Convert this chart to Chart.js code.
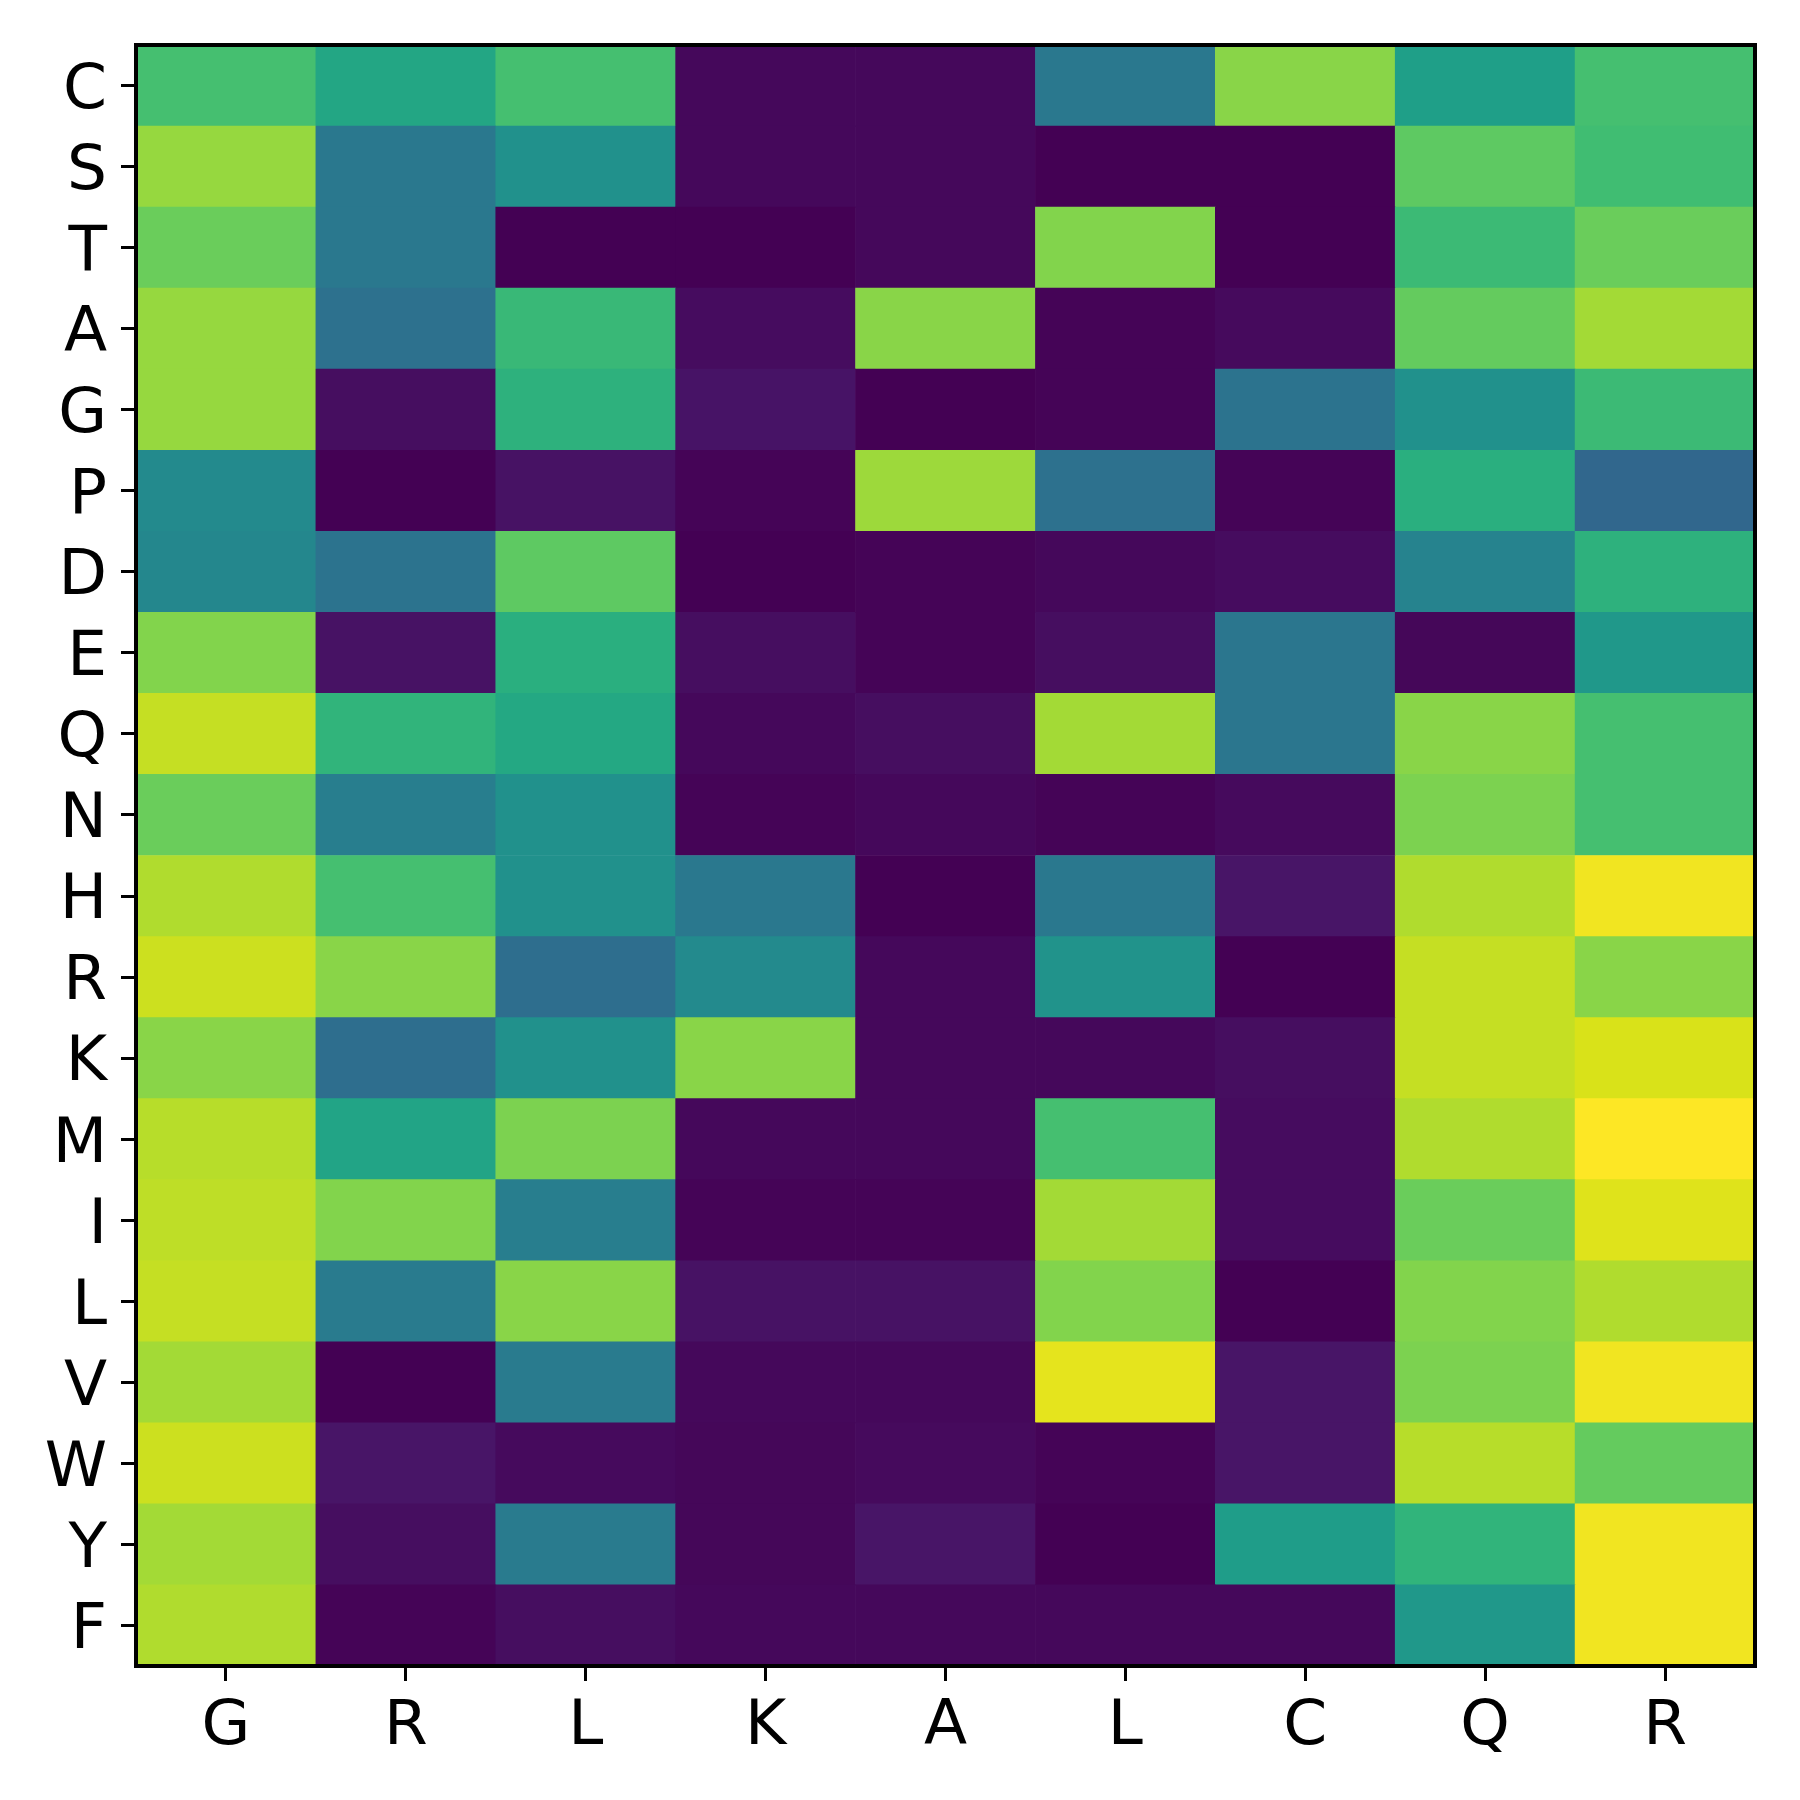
<!DOCTYPE html>
<html>
<head>
<meta charset="utf-8">
<script src="https://cdn.jsdelivr.net/npm/chart.js@4/dist/chart.umd.min.js"></script>
<style>
    body { margin: 0; background: #fff; }
    #wrap { width: 1800px; height: 1800px; }
</style>
</head>
<body>
<div id="wrap"><canvas id="heat" width="1800" height="1800"></canvas></div>
<script>
// column labels (x) and row labels (y, top to bottom)
const colLabels = ['G', 'R', 'L', 'K', 'A', 'L', 'C', 'Q', 'R'];
const rowLabels = ['C', 'S', 'T', 'A', 'G', 'P', 'D', 'E', 'Q', 'N', 'H', 'R', 'K', 'M', 'I', 'L', 'V', 'W', 'Y', 'F'];

// heat values 0..1, one row per rowLabel
const rowC = [0.70, 0.59, 0.70, 0.020, 0.020, 0.40, 0.82, 0.56, 0.70];
const rowS = [0.84, 0.40, 0.50, 0.020, 0.020, 0.000, 0.000, 0.75, 0.69];
const rowT = [0.77, 0.40, 0.000, 0.000, 0.020, 0.81, 0.000, 0.68, 0.77];
const rowA = [0.84, 0.37, 0.67, 0.030, 0.82, 0.008, 0.025, 0.76, 0.86];
const rowG = [0.84, 0.035, 0.64, 0.050, 0.000, 0.008, 0.38, 0.50, 0.68];
const rowP = [0.47, 0.000, 0.045, 0.008, 0.85, 0.37, 0.008, 0.63, 0.33];
const rowD = [0.46, 0.38, 0.75, 0.000, 0.008, 0.020, 0.030, 0.44, 0.64];
const rowE = [0.81, 0.045, 0.63, 0.035, 0.008, 0.035, 0.39, 0.015, 0.53];
const rowQ = [0.91, 0.65, 0.60, 0.020, 0.035, 0.86, 0.39, 0.82, 0.70];
const rowN = [0.77, 0.42, 0.50, 0.008, 0.020, 0.008, 0.025, 0.80, 0.70];
const rowH = [0.88, 0.70, 0.50, 0.40, 0.000, 0.40, 0.055, 0.88, 0.98];
const rowR = [0.92, 0.82, 0.36, 0.47, 0.020, 0.51, 0.000, 0.91, 0.82];
const rowK = [0.82, 0.36, 0.50, 0.82, 0.020, 0.020, 0.035, 0.91, 0.94];
const rowM = [0.89, 0.58, 0.80, 0.020, 0.020, 0.70, 0.030, 0.88, 1.00];
const rowI = [0.90, 0.81, 0.42, 0.008, 0.008, 0.86, 0.030, 0.77, 0.95];
const rowL = [0.91, 0.41, 0.82, 0.045, 0.045, 0.81, 0.000, 0.81, 0.88];
const rowV = [0.86, 0.000, 0.41, 0.020, 0.020, 0.96, 0.055, 0.80, 0.98];
const rowW = [0.92, 0.055, 0.025, 0.015, 0.025, 0.008, 0.055, 0.89, 0.76];
const rowY = [0.86, 0.035, 0.41, 0.015, 0.055, 0.000, 0.55, 0.65, 0.98];
const rowF = [0.88, 0.008, 0.035, 0.020, 0.020, 0.020, 0.020, 0.53, 0.98];

const heatRows = [rowC, rowS, rowT, rowA, rowG, rowP, rowD, rowE, rowQ, rowN,
                  rowH, rowR, rowK, rowM, rowI, rowL, rowV, rowW, rowY, rowF];

// viridis colormap
const viridisStops = ['#440154', '#48186a', '#472d7b', '#424086', '#3b528b', '#33638d', '#2c728e', '#26828e', '#21918c',
                      '#1fa088', '#28ae80', '#3fbc73', '#5ec962', '#84d44b', '#addc30', '#d8e219', '#fde725'];
function hexToRgb(h) {
    return [parseInt(h.slice(1, 3), 16), parseInt(h.slice(3, 5), 16), parseInt(h.slice(5, 7), 16)];
}
function viridis(v) {
    v = Math.max(0, Math.min(1, v));
    const pos = v * (viridisStops.length - 1);
    const i = Math.min(Math.floor(pos), viridisStops.length - 2);
    const t = pos - i;
    const a = hexToRgb(viridisStops[i]), b = hexToRgb(viridisStops[i + 1]);
    const c = a.map((x, k) => Math.round(x + (b[k] - x) * t));
    return `rgb(${c[0]},${c[1]},${c[2]})`;
}

// one stacked dataset per row, bottom row first
const datasets = [];
for (let r = heatRows.length - 1; r >= 0; r--) {
    datasets.push({
        label: rowLabels[r],
        data: heatRows[r].map(() => 1),
        backgroundColor: heatRows[r].map(viridis),
        borderWidth: 0,
        barPercentage: 1.0,
        categoryPercentage: 1.0
    });
}

// frame around the plot area
const framePlugin = {
    id: 'frame',
    afterDraw(chart) {
        const { ctx, chartArea: a } = chart;
        ctx.save();
        ctx.strokeStyle = '#000';
        ctx.lineWidth = 4;
        ctx.strokeRect(a.left, a.top, a.right - a.left, a.bottom - a.top);
        ctx.restore();
    }
};

new Chart(document.getElementById('heat'), {
    type: 'bar',
    data: { labels: colLabels, datasets },
    options: {
        responsive: false,
        animation: false,
        events: [],
        layout: { padding: { top: 45, right: 45, left: 0, bottom: 0 } },
        plugins: { legend: { display: false }, tooltip: { enabled: false } },
        scales: {
            x: {
                stacked: true,
                afterFit: (s) => { s.height = 134; s.paddingLeft = 0; s.paddingRight = 0; },
                grid: { offset: false, drawOnChartArea: false, tickLength: 15, tickWidth: 3, color: '#000' },
                border: { display: false },
                ticks: { color: '#000', padding: 9, font: { family: 'DejaVu Sans', size: 63 } }
            },
            y: {
                stacked: true,
                min: 0,
                max: rowLabels.length,
                afterFit: (s) => { s.width = 136; s.paddingTop = 0; s.paddingBottom = 0; },
                afterBuildTicks: (s) => {
                    s.ticks = rowLabels.map((_, i) => ({ value: i + 0.5 }));
                },
                grid: { drawOnChartArea: false, tickLength: 15, tickWidth: 3, color: '#000' },
                border: { display: false },
                ticks: {
                    color: '#000',
                    padding: 14,
                    labelOffset: 6,
                    autoSkip: false,
                    font: { family: 'DejaVu Sans', size: 63 },
                    callback: (v) => rowLabels[rowLabels.length - 1 - Math.floor(v)]
                }
            }
        }
    },
    plugins: [framePlugin]
});
</script>
</body>
</html>
